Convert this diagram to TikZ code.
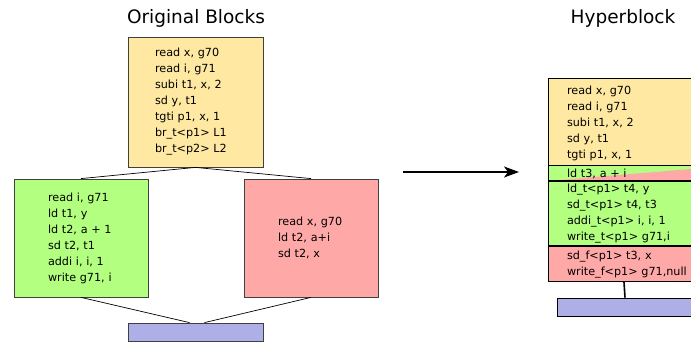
\documentclass[tikz,border=0pt]{standalone}
\usepackage{fontspec}
\setmainfont{DejaVu Sans}
\usetikzlibrary{positioning,arrows.meta}

\definecolor{ylw}{RGB}{255,232,162}
\definecolor{grn}{RGB}{179,255,128}
\definecolor{pnk}{RGB}{255,168,168}
\definecolor{blu}{RGB}{175,175,232}

\begin{document}
\begin{tikzpicture}[x=1pt,y=-1pt]

\tikzstyle{title}=[font=\fontsize{18.5}{22}\selectfont]
\tikzstyle{block}=[draw=black!75,line width=0.8pt,rectangle,align=left,font=\fontsize{11.2}{16}\selectfont]
\tikzstyle{hpart}=[draw=black,line width=0.9pt,rectangle,align=left,text width=130pt,inner xsep=19pt,inner ysep=0pt,font=\fontsize{11.2}{16}\selectfont]
\tikzstyle{exit}=[draw=black!75,line width=0.8pt,fill=blu,minimum width=135pt,minimum height=18pt,inner sep=0pt]

\useasboundingbox (0,0) rectangle (691,342);

% titles
\node[title] (t0) at (196,18) {Original Blocks};
\node[title] (t1) at (623,18) {Hyperblock};

% original blocks
\node[block,fill=ylw,minimum width=135pt,minimum height=130pt,text width=81pt] (b0) at (195.5,102)
  {read x, g70\\read i, g71\\subi t1, x, 2\\sd y, t1\\tgti p1, x, 1\\br\_t<p1> L1\\br\_t<p2> L2};
\node[block,fill=grn,minimum width=134pt,minimum height=118pt,text width=66pt] (b1) at (81,238)
  {read i, g71\\ld t1, y\\ld t2, a + 1\\sd t2, t1\\addi i, i, 1\\write g71, i};
\node[block,fill=pnk,minimum width=134pt,minimum height=118pt,text width=66pt] (b2) at (311,238)
  {read x, g70\\ld t2, a+i\\sd t2, x};
\node[exit] (b3) at (195.5,332) {};

\path[line width=0.7pt] (b0.south) edge (b1.north)
                                   edge (b2.north)
                        (b1.south) edge ([xshift=-6pt]b3.north)
                        (b2.south) edge ([xshift=9pt]b3.north);

% arrow between the two halves
\coordinate (a0) at (403,172);
\coordinate (a1) at (519,172);
\draw[line width=1.2pt,-{Stealth[length=15pt,width=11pt,inset=4pt]}] (a0) -- (a1);

% hyperblock (runs on past the right edge)
\node[hpart,fill=ylw,minimum height=87pt,text depth=62pt] (h0) at (632,121.5)
  {read x, g70\\read i, g71\\subi t1, x, 2\\sd y, t1\\tgti p1, x, 1};
\node[hpart,fill=grn,minimum height=15pt,
  path picture={\fill[pnk] (path picture bounding box.south west) -- (path picture bounding box.south east)
    -- ([yshift=-1pt]path picture bounding box.north east) -- cycle;}]
  (h1) [below=0pt of h0] {ld t3, a + i};
\node[hpart,fill=grn,minimum height=64pt] (h2) [below=0pt of h1]
  {ld\_t<p1> t4, y\\sd\_t<p1> t4, t3\\addi\_t<p1> i, i, 1\\write\_t<p1> g71,i};
\node[hpart,fill=pnk,minimum height=35pt] (h3) [below=0pt of h2]
  {sd\_f<p1> t3, x\\write\_f<p1> g71,null};
\draw[line width=1.6pt] (h2.south west) -- (h2.south east);
\node[exit,draw=black,minimum width=136pt] (h4) at (625,307) {};
\draw[line width=1.6pt] ([xshift=-8pt]h3.south) -- (h4.north);

\end{tikzpicture}
\end{document}
